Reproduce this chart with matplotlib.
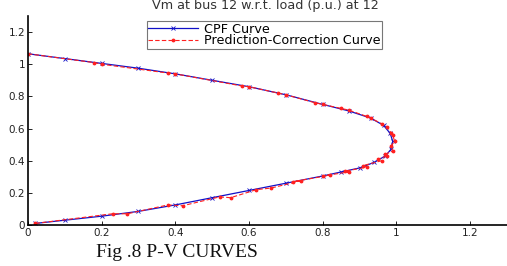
import matplotlib
matplotlib.use('Agg')
import matplotlib.pyplot as plt

# CPF curve (load p.u., voltage p.u.)
cpf_p = [0.0, 0.1, 0.2, 0.3, 0.4, 0.5, 0.6, 0.7, 0.8, 0.87, 0.93, 0.965, 0.983, 0.99,
         0.985, 0.97, 0.94, 0.90, 0.85, 0.80, 0.70, 0.60, 0.50, 0.40, 0.30, 0.20, 0.10, 0.02]
cpf_v = [1.065, 1.035, 1.005, 0.975, 0.94, 0.90, 0.86, 0.81, 0.75, 0.71, 0.665, 0.62, 0.57, 0.52,
         0.47, 0.43, 0.39, 0.355, 0.33, 0.305, 0.26, 0.215, 0.17, 0.125, 0.085, 0.055, 0.03, 0.01]

# Prediction-correction curve
pc_p = [0.0, 0.18, 0.2, 0.38, 0.4, 0.58, 0.6, 0.68, 0.7, 0.78, 0.8, 0.85, 0.87, 0.92, 0.93,
        0.96, 0.975, 0.985, 0.99, 0.995, 0.985, 0.99, 0.97, 0.975, 0.95, 0.96, 0.91, 0.92,
        0.86, 0.87, 0.80, 0.82, 0.72, 0.74, 0.66, 0.62, 0.55, 0.52, 0.42, 0.38, 0.27, 0.23, 0.02]
pc_v = [1.065, 1.01, 1.0, 0.945, 0.94, 0.865, 0.86, 0.82, 0.81, 0.76, 0.75, 0.725, 0.715, 0.675, 0.665,
        0.63, 0.61, 0.575, 0.56, 0.52, 0.49, 0.46, 0.44, 0.43, 0.41, 0.40, 0.37, 0.36,
        0.335, 0.33, 0.305, 0.31, 0.27, 0.275, 0.23, 0.22, 0.17, 0.175, 0.12, 0.125, 0.07, 0.07, 0.01]

ticks = [0, 0.2, 0.4, 0.6, 0.8, 1, 1.2]
tick_labels = ['0', '0.2', '0.4', '0.6', '0.8', '1', '1.2']

fig = plt.figure(figsize=(5.07, 2.66), dpi=100)
ax = fig.add_axes([0.055, 0.154, 0.945, 0.786])

ax.plot(cpf_p, cpf_v, color='#1010c8', lw=0.9, marker='x', ms=2.5, mew=0.6, label='CPF Curve')
ax.plot(pc_p, pc_v, color='#ff2020', lw=0.8, ls=(0, (4, 2)), marker='.', ms=3.5,
        label='Prediction-Correction Curve')

ax.set_xlim(0, 1.3)
ax.set_ylim(0, 1.3)
ax.set_xticks(ticks)
ax.set_yticks(ticks)
ax.set_xticklabels(tick_labels)
ax.set_yticklabels(tick_labels)
ax.tick_params(direction='in', length=3, width=0.7, labelsize=7.5, pad=2, colors='#222222')
for lab in ax.get_xticklabels() + ax.get_yticklabels():
    lab.set_family('DejaVu Sans')
ax.spines['top'].set_visible(False)
ax.spines['right'].set_visible(False)
ax.spines['left'].set_linewidth(1.2)
ax.spines['bottom'].set_linewidth(1.2)

fig.text(0.524, 0.965, 'Vm at bus 12 w.r.t. load (p.u.) at 12', fontsize=9.2, family='DejaVu Sans',
         color='#333333', ha='center', va='baseline')

leg = ax.legend(loc='upper left', bbox_to_anchor=(0.248, 0.976),
                prop={'family': 'DejaVu Sans', 'size': 9.2}, handlelength=3.9,
                handletextpad=0.5, borderpad=0.12, labelspacing=-0.1, borderaxespad=0,
                fancybox=False, framealpha=1)
leg.get_frame().set_edgecolor('#777777')
leg.get_frame().set_linewidth(0.8)

fig.text(0.19, 0.035, 'Fig .8 P-V CURVES', family='Liberation Serif', fontsize=14, color='#111111')

fig.savefig('out.png', dpi=100)
